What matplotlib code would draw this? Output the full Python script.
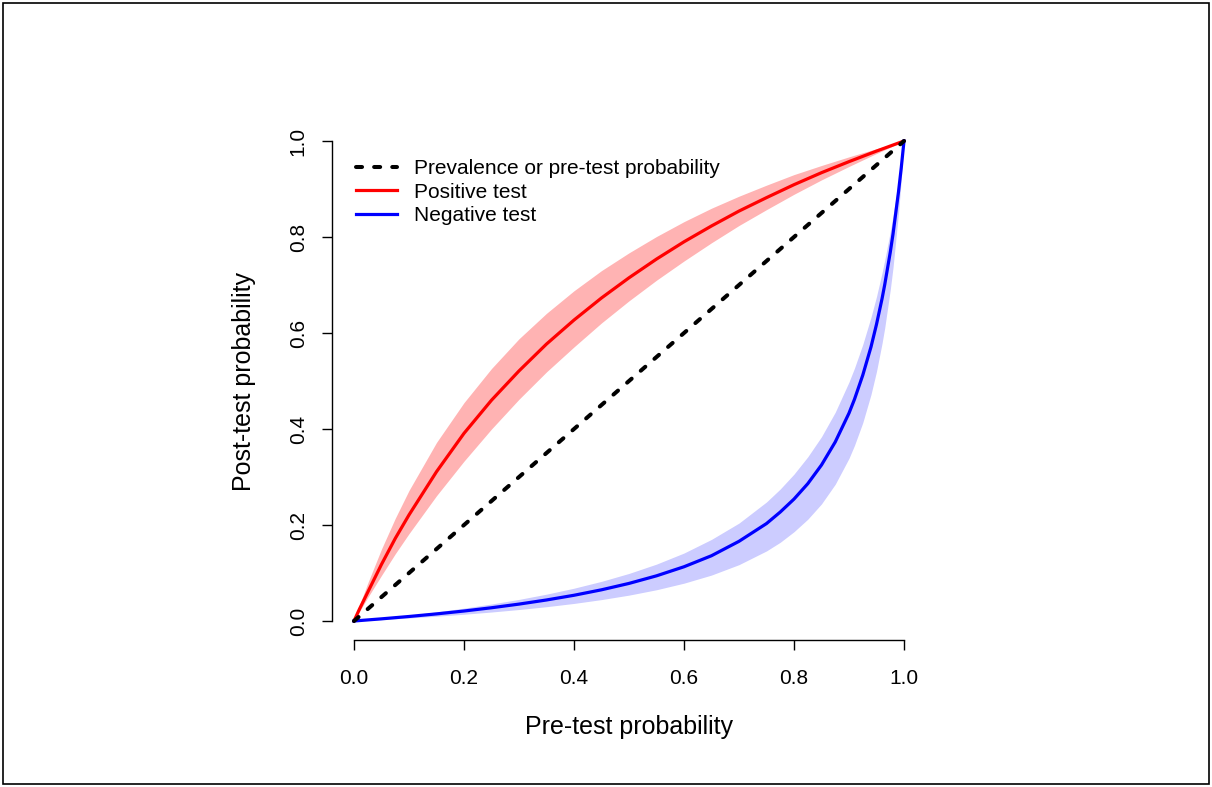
import matplotlib
matplotlib.use("Agg")
import matplotlib.pyplot as plt
from matplotlib.patches import Rectangle

plt.rcParams['font.family'] = ['Liberation Sans', 'DejaVu Sans']

# Pre-test probability grid
pre_red = [0, .01, .025, .05, .075, .1, .15, .2, .25, .3, .35, .4, .45, .5,
           .55, .6, .65, .7, .75, .8, .85, .9, .95, 1]
# Positive test: central curve and band
pos_mid = [0, .025, .060, .118, .172, .221, .311, .391, .460, .521, .577, .627, .673, .715,
           .754, .790, .823, .854, .882, .909, .934, .957, .979, 1]
pos_hi = [0, .033, .079, .150, .214, .272, .372, .455, .526, .588, .641, .688, .730, .767,
          .801, .832, .860, .885, .908, .930, .949, .967, .984, 1]
pos_lo = [0, .020, .049, .095, .140, .182, .261, .333, .400, .462, .519, .571, .621, .667,
          .710, .750, .788, .824, .857, .889, .919, .947, .974, 1]

pre_blue = [0, .05, .1, .15, .2, .25, .3, .35, .4, .45, .5, .55, .6, .65, .7,
            .75, .775, .8, .825, .85, .875, .9, .91, .925, .94, .95, .96, .965,
            .975, .98, .99, .995, 1]
neg_mid = [0, .0045, .0094, .0148, .0208, .0276, .0352, .0438, .0536, .0650, .0783,
           .0941, .113, .136, .166, .203, .227, .254, .286, .325, .373, .433, .462,
           .512, .571, .618, .671, .701, .768, .806, .894, .944, 1]
neg_hi = [0, .0058, .0121, .0190, .0268, .0354, .0450, .0559, .0683, .0826, .0991,
          .1185, .1416, .170, .204, .248, .275, .306, .342, .384, .435, .498, .527,
          .576, .633, .676, .725, .752, .811, .844, .916, .956, 1]
neg_lo = [0, .0030, .0063, .0100, .0141, .0187, .0239, .0298, .0366, .0446, .0539,
          .0651, .0788, .0957, .1174, .146, .164, .186, .212, .244, .285, .339, .366,
          .413, .472, .520, .578, .611, .690, .736, .850, .919, 1]

diag = [0, 1]

W, H = 1212, 787
fig = plt.figure(figsize=(W / 100, H / 100), dpi=100)

# axes region: data 0..1 maps x 354..904 px, y 621..141 px, with 4% padding
x0 = 354 - 0.04 * 550
x1 = 904 + 0.04 * 550
yb = 621 + 0.04 * 480
yt = 141 - 0.04 * 480
ax = fig.add_axes([x0 / W, 1 - yb / H, (x1 - x0) / W, (yb - yt) / H])
ax.set_xlim(-0.04, 1.04)
ax.set_ylim(-0.04, 1.04)

ax.fill_between(pre_red, pos_lo, pos_hi, color='#FFB3B3', lw=0, zorder=1)
ax.fill_between(pre_blue, neg_lo, neg_hi, color='#CCCCFF', lw=0, zorder=1)

ax.plot(diag, diag, color='black', lw=2.9, linestyle=(0, (1.5, 3.0)),
        dash_capstyle='round', solid_capstyle='round', zorder=4,
        label='Prevalence or pre-test probability')
ax.plot(pre_red, pos_mid, color='#FF0000', lw=2.3, zorder=3, label='Positive test')
ax.plot(pre_blue, neg_mid, color='#0000FF', lw=2.3, zorder=3, label='Negative test')

for s in ['top', 'right']:
    ax.spines[s].set_visible(False)
ax.spines['left'].set_bounds(0, 1)
ax.spines['bottom'].set_bounds(0, 1)
for s in ['left', 'bottom']:
    ax.spines[s].set_linewidth(1.0)

ticks = [0, 0.2, 0.4, 0.6, 0.8, 1.0]
tick_labels = ['0.0', '0.2', '0.4', '0.6', '0.8', '1.0']
ax.set_xticks(ticks)
ax.set_xticklabels(tick_labels)
ax.set_yticks(ticks)
ax.set_yticklabels(tick_labels, rotation=90, va='center')
ax.tick_params(axis='both', length=7.5, width=1.0, labelsize=15)
ax.tick_params(axis='x', pad=13)
ax.tick_params(axis='y', pad=10)

fig.text(629 / W, 1 - 727 / H, 'Pre-test probability', ha='center', va='center',
         fontsize=18)
fig.text(244 / W, 1 - 381 / H, 'Post-test probability', ha='center', va='center',
         rotation=90, fontsize=18)

ax.legend(loc='upper left', bbox_to_anchor=(356 / W, 1 - 159 / H),
          bbox_transform=fig.transFigure, frameon=False, fontsize=15,
          handlelength=1.95, handletextpad=0.85, labelspacing=0.22,
          borderpad=0, borderaxespad=0)

fig.add_artist(Rectangle((3 / W, 3 / H), (W - 6) / W, (H - 6) / H,
                         transform=fig.transFigure, fill=False,
                         edgecolor='black', lw=1.2))

fig.savefig('out.png', dpi=100)
